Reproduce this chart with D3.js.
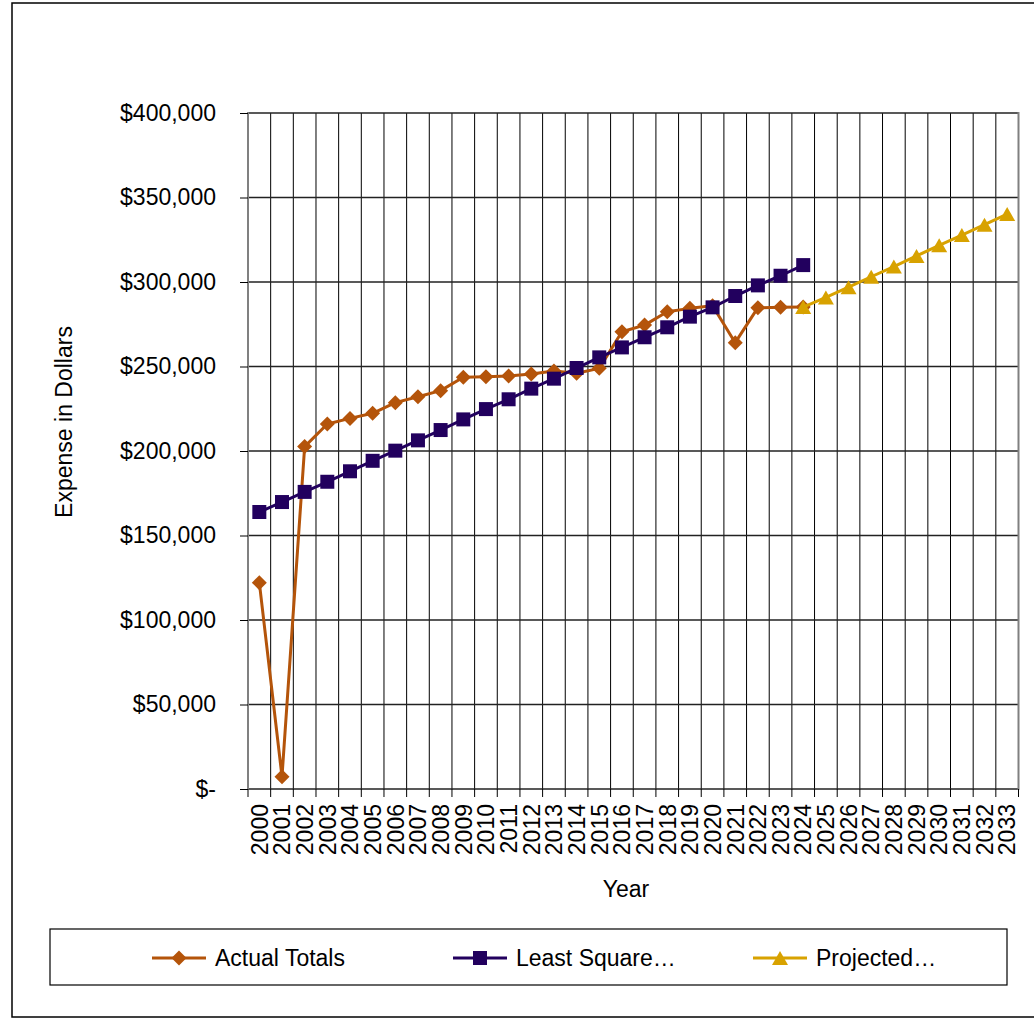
<!DOCTYPE html>
<meta charset="utf-8">
<head><title>Expense in Dollars</title></head>
<script src="https://d3js.org/d3.v7.min.js"></script>
<style>
  body { margin: 0; background: #fff; }
  text { font-family: "Liberation Sans", Arial, sans-serif; fill: #000; }
</style>
<body>
<div id="my_dataviz"></div>
<script>

// categories (tick labels)
var years = ["2000","2001","2002","2003","2004","2005","2006","2007","2008","2009",
  "2010","2011","2012","2013","2014","2015","2016","2017","2018","2019",
  "2020","2021","2022","2023","2024","2025","2026","2027","2028","2029",
  "2030","2031","2032","2033"];

// Actual Totals, 2000 - 2024
var actualYears = years.slice(0, 25);
var actualTotals = [122100, 7300, 202600, 216000, 219300, 222300, 228600, 232100, 235700, 243600,
  244000, 244400, 245600, 247300, 246000, 248900, 270600, 274500, 282400, 284400,
  286000, 264100, 284800, 285000, 285200];

// Least Square..., 2000 - 2024
var leastYears = years.slice(0, 25);
var leastSquare = [163900, 169800, 175800, 181800, 188000, 194200, 200200, 206300, 212400, 218700,
  224800, 230600, 236900, 242800, 249100, 255400, 261300, 267300, 273200, 279500,
  285000, 291700, 298000, 303700, 310000];

// Projected..., 2024 - 2033
var projYears = years.slice(24);
var projected = [285200, 290900, 296900, 303100, 309100, 315400, 321700, 327800, 333900, 340200];

var yTicks = [0, 50000, 100000, 150000, 200000, 250000, 300000, 350000, 400000];
var seriesNames = ["Actual Totals", "Least Square\u2026", "Projected\u2026"];
var colors = ["#B4540A", "#22005E", "#D8A200"];

var W = 1034, H = 1018;
var svg = d3.select("#my_dataviz")
  .append("svg")
  .attr("width", W)
  .attr("height", H);

// chart border
svg.append("rect")
  .attr("x", 12).attr("y", 3)
  .attr("width", 1040).attr("height", 1014)
  .attr("fill", "#fff")
  .attr("stroke", "#000")
  .attr("stroke-width", 1.5);

var x = d3.scaleBand()
  .domain(years)
  .range([248, 1018.5])
  .padding(0);

var y = d3.scaleLinear()
  .domain([0, 400000])
  .range([789, 113]);

// vertical grid lines at category boundaries
svg.append("g")
  .selectAll("line")
  .data(years.slice(1))
  .enter()
  .append("line")
  .attr("x1", function(d) { return x(d); })
  .attr("x2", function(d) { return x(d); })
  .attr("y1", 113)
  .attr("y2", 789)
  .attr("stroke", "#000")
  .attr("stroke-width", 1);

// horizontal grid lines
svg.append("g")
  .selectAll("line")
  .data(yTicks)
  .enter()
  .append("line")
  .attr("x1", 248)
  .attr("x2", 1018.5)
  .attr("y1", function(d) { return y(d); })
  .attr("y2", function(d) { return y(d); })
  .attr("stroke", "#222")
  .attr("stroke-width", 1.3);

// plot area edges
svg.append("line").attr("x1", 248).attr("x2", 248).attr("y1", 112).attr("y2", 790)
  .attr("stroke", "#808080").attr("stroke-width", 2);
svg.append("line").attr("x1", 1018.5).attr("x2", 1018.5).attr("y1", 112).attr("y2", 790)
  .attr("stroke", "#808080").attr("stroke-width", 2);

// Y axis
var yAxis = d3.axisLeft(y)
  .tickValues(yTicks)
  .tickSize(8)
  .tickPadding(24)
  .tickFormat(function(d) { return d === 0 ? "$-" : "$" + d3.format(",")(d); });
var gy = svg.append("g")
  .attr("transform", "translate(248,0)")
  .call(yAxis);
gy.select(".domain").remove();
gy.selectAll(".tick line").attr("stroke", "#000");
gy.selectAll(".tick text")
  .attr("font-size", "23px")
  .attr("font-family", "'Liberation Sans', Arial, sans-serif");

// X axis: ticks at category boundaries, labels at centers
var gx = svg.append("g")
  .attr("transform", "translate(0,789)");
gx.selectAll("line")
  .data(years.concat(["end"]))
  .enter()
  .append("line")
  .attr("x1", function(d, i) { return 248 + i * x.step(); })
  .attr("x2", function(d, i) { return 248 + i * x.step(); })
  .attr("y1", 0)
  .attr("y2", 8)
  .attr("stroke", "#000");
gx.selectAll("text")
  .data(years)
  .enter()
  .append("text")
  .attr("transform", function(d) {
    return "translate(" + (x(d) + x.bandwidth() / 2) + ",15) rotate(-90)";
  })
  .attr("text-anchor", "end")
  .attr("dy", "0.36em")
  .attr("font-size", "23px")
  .text(function(d) { return d; });

// axis titles
svg.append("text")
  .attr("x", 626)
  .attr("y", 897)
  .attr("text-anchor", "middle")
  .attr("font-size", "23px")
  .text("Year");
svg.append("text")
  .attr("transform", "translate(72,422) rotate(-90)")
  .attr("text-anchor", "middle")
  .attr("font-size", "23px")
  .text("Expense in Dollars");

// marker shapes
function markerPath(kind) {
  if (kind === 0) return "M0,-7.5L7.5,0L0,7.5L-7.5,0Z";
  if (kind === 1) return "M-7,-7H7V7H-7Z";
  return "M0,-7L8,7L-8,7Z";
}

var series = [
  { cats: actualYears, vals: actualTotals },
  { cats: leastYears, vals: leastSquare },
  { cats: projYears, vals: projected }
];

var cx = function(c) { return x(c) + x.bandwidth() / 2; };

// draw series in order (projected, least square, actual on top of line order like Excel)
[0, 1, 2].forEach(function(k) {
  var s = series[k];
  var pts = s.cats.map(function(c, i) { return [cx(c), y(s.vals[i])]; });
  svg.append("path")
    .datum(pts)
    .attr("fill", "none")
    .attr("stroke", colors[k])
    .attr("stroke-width", 3)
    .attr("stroke-linejoin", "round")
    .attr("d", d3.line());
  svg.append("g")
    .selectAll("path")
    .data(pts)
    .enter()
    .append("path")
    .attr("transform", function(d) { return "translate(" + d + ")"; })
    .attr("d", markerPath(k))
    .attr("fill", colors[k]);
});

// legend
svg.append("rect")
  .attr("x", 50).attr("y", 929)
  .attr("width", 957).attr("height", 56)
  .attr("fill", "#fff")
  .attr("stroke", "#000")
  .attr("stroke-width", 1.2);

var legendX = [152, 453, 753];
seriesNames.forEach(function(name, k) {
  var g = svg.append("g").attr("transform", "translate(" + legendX[k] + ",958)");
  g.append("line")
    .attr("x1", 0).attr("x2", 54)
    .attr("y1", 0).attr("y2", 0)
    .attr("stroke", colors[k])
    .attr("stroke-width", 3);
  g.append("path")
    .attr("transform", "translate(27,0)")
    .attr("d", markerPath(k))
    .attr("fill", colors[k]);
  g.append("text")
    .attr("x", 63)
    .attr("y", 0)
    .attr("dy", "0.35em")
    .attr("font-size", "23px")
    .text(name);
});

</script>
</body>
